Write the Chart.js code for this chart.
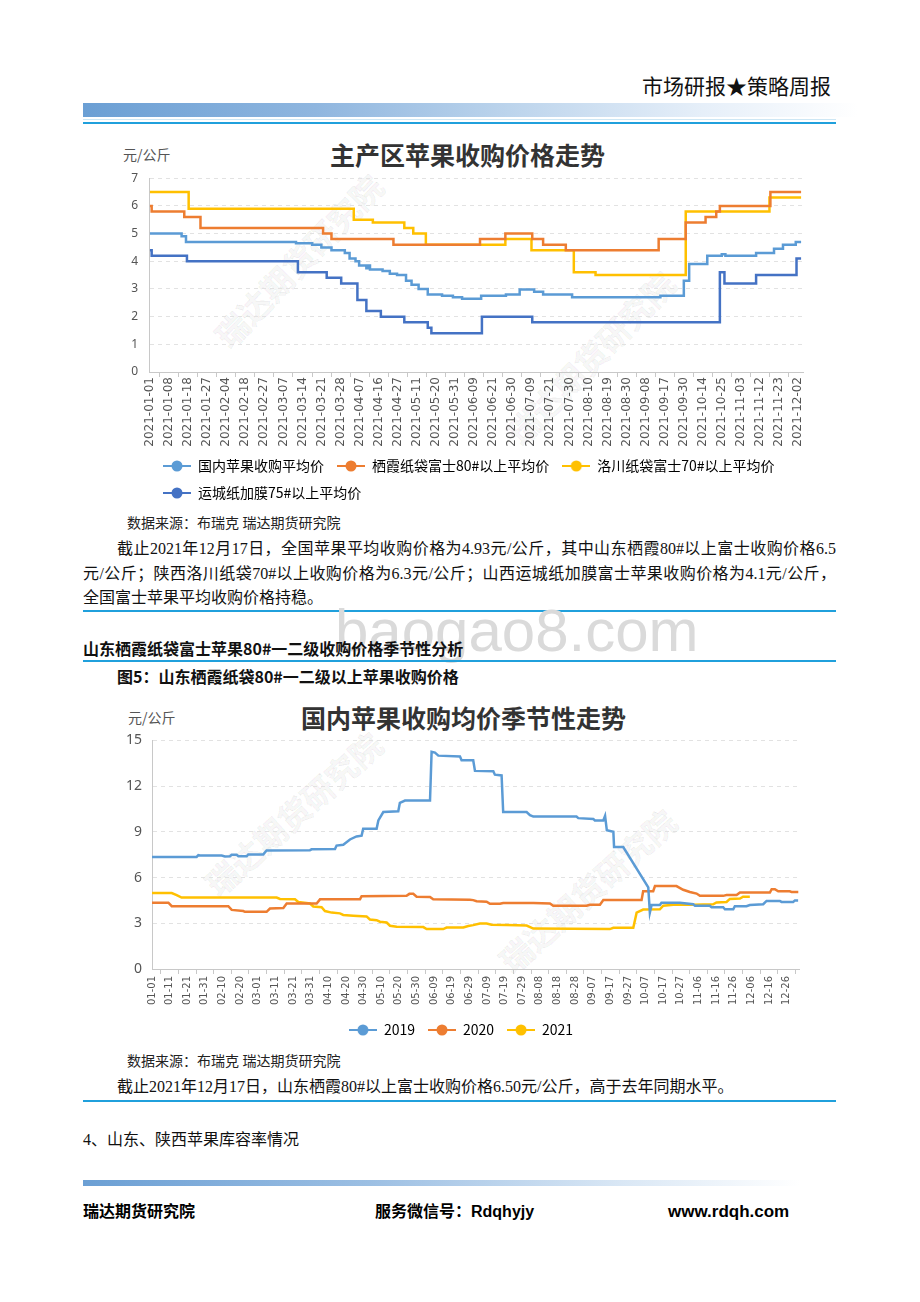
<!DOCTYPE html>
<html lang="zh-CN">
<head>
<meta charset="utf-8">
<title>市场研报★策略周报</title>
<script src="https://cdn.jsdelivr.net/npm/chart.js@4.4.1/dist/chart.umd.min.js"></script>
<style>
  html, body { margin: 0; padding: 0; background: #fff; }
  body { position: relative; width: 920px; height: 1302px; overflow: hidden;
         font-family: "Liberation Serif", "Noto Sans CJK SC", serif; color: #111; }
  .abs { position: absolute; white-space: nowrap; }
  .txt { font-size: 16px; line-height: 24px; }
  .just { white-space: normal; text-align: justify; text-align-last: justify; }
  .bold { font-family: "Noto Sans CJK SC", sans-serif; font-weight: bold; font-size: 16px; line-height: 24px; }
  .foot { font-family: "Liberation Sans", "Noto Sans CJK SC", sans-serif; font-weight: bold; font-size: 16px; line-height: 24px; color: #000; }
  .rule { position: absolute; left: 83px; width: 753px; height: 2px; background: #20a0dc; }
  .src { font-size: 14px; line-height: 20px; color: #222; }
  .ctitle { font-family: "Noto Sans CJK SC", sans-serif; font-weight: bold; font-size: 25px; line-height: 30px; color: #333; }
  .unit { font-family: "Noto Sans CJK SC", sans-serif; font-size: 14px; line-height: 20px; color: #555; }
  .wm { position: absolute; width: 240px; height: 36px; line-height: 36px; text-align: center;
        font-family: "Noto Sans CJK SC", sans-serif; font-weight: bold; font-size: 32px;
        color: rgba(0,0,0,0.04); -webkit-text-stroke: 0.8px rgba(0,0,0,0.07); }
  .chart { position: absolute; z-index: 1; }
  .chart canvas { display: block; }
</style>
</head>
<body>

<div class="abs" style="right:89px;top:72px;font-family:'Noto Sans CJK SC',sans-serif;font-size:21px;line-height:26px;color:#111">市场研报★策略周报</div>
<div class="abs" style="left:83px;top:103px;width:775px;height:14px;background:linear-gradient(to right,#6b9fd4 0%,#8fb6df 30%,#bcd4ec 55%,#e6eff9 80%,#ffffff 100%)"></div>
<div class="abs" style="left:83px;top:119px;width:753px;height:1px;background:#cde7f5"></div>
<div class="rule" style="top:122px"></div>

<!-- chart 1 -->
<div class="wm" style="left:178px;top:242px;transform:rotate(-46deg)">瑞达期货研究院</div>
<div class="wm" style="left:470px;top:339px;transform:rotate(-46deg)">瑞达期货研究院</div>
<div class="abs ctitle" style="left:330px;top:139px">主产区苹果收购价格走势</div>
<div class="abs unit" style="left:123px;top:144px">元/公斤</div>
<div class="chart" style="left:100px;top:160px"><canvas id="priceChart" width="720" height="350"></canvas></div>

<div class="abs src" style="left:127px;top:514px">数据来源：布瑞克 瑞达期货研究院</div>
<div class="abs txt just" style="left:117px;top:537px;width:719px">截止2021年12月17日，全国苹果平均收购价格为4.93元/公斤，其中山东栖霞80#以上富士收购价格6.5</div>
<div class="abs txt just" style="left:83px;top:562px;width:753px">元/公斤；陕西洛川纸袋70#以上收购价格为6.3元/公斤；山西运城纸加膜富士苹果收购价格为4.1元/公斤，</div>
<div class="abs txt" style="left:83px;top:586px">全国富士苹果平均收购价格持稳。</div>
<div class="rule" style="top:610px"></div>

<div class="abs" style="left:335px;top:601px;font-family:'Liberation Sans',sans-serif;font-size:60px;line-height:60px;color:#dadada">baogao8.com</div>
<div class="abs bold" style="left:83px;top:636px">山东栖霞纸袋富士苹果80#一二级收购价格季节性分析</div>
<div class="rule" style="top:660px"></div>
<div class="abs bold" style="left:117px;top:664px">图5：山东栖霞纸袋80#一二级以上苹果收购价格</div>

<!-- chart 2 -->
<div class="wm" style="left:173px;top:795px;transform:rotate(-42deg)">瑞达期货研究院</div>
<div class="wm" style="left:467px;top:872px;transform:rotate(-42deg)">瑞达期货研究院</div>
<div class="abs ctitle" style="left:301px;top:702px">国内苹果收购均价季节性走势</div>
<div class="abs unit" style="left:128px;top:707px">元/公斤</div>
<div class="chart" style="left:100px;top:722px"><canvas id="seasonChart" width="720" height="325"></canvas></div>

<div class="abs src" style="left:127px;top:1052px">数据来源：布瑞克 瑞达期货研究院</div>
<div class="abs txt" style="left:117px;top:1075px">截止2021年12月17日，山东栖霞80#以上富士收购价格6.50元/公斤，高于去年同期水平。</div>
<div class="rule" style="top:1100px"></div>
<div class="abs txt" style="left:83px;top:1128px">4、山东、陕西苹果库容率情况</div>

<div class="abs" style="left:83px;top:1180px;width:717px;height:6px;background:linear-gradient(to right,#6b9fd4 0%,#9cbfe3 40%,#d9e7f5 75%,#ffffff 100%)"></div>
<div class="abs foot" style="left:83px;top:1200px">瑞达期货研究院</div>
<div class="abs foot" style="left:375px;top:1200px">服务微信号：Rdqhyjy</div>
<div class="abs foot" style="left:668px;top:1200px;font-size:17px">www.rdqh.com</div>

<script>
// ---- chart 1: main producing areas, 2021 (x = position on the date axis) ----
const dates1 = ['2021-01-01', '2021-01-08', '2021-01-18', '2021-01-27', '2021-02-04', '2021-02-18', '2021-02-27',
  '2021-03-07', '2021-03-14', '2021-03-21', '2021-03-28', '2021-04-07', '2021-04-16', '2021-04-27', '2021-05-11',
  '2021-05-20', '2021-05-31', '2021-06-09', '2021-06-21', '2021-06-30', '2021-07-09', '2021-07-21', '2021-07-30',
  '2021-08-10', '2021-08-19', '2021-08-30', '2021-09-08', '2021-09-17', '2021-09-30', '2021-10-14', '2021-10-25',
  '2021-11-03', '2021-11-12', '2021-11-23', '2021-12-02']
const names1  = ['国内苹果收购平均价', '栖霞纸袋富士80#以上平均价', '洛川纸袋富士70#以上平均价', '运城纸加膜75#以上平均价']
const colors1 = ['#5b9bd5', '#ed7d31', '#ffc000', '#4472c4']
const end1 = 34.15

// each price holds from its x until the next x
const avgX = [0, 1.66, 1.89, 7.66, 8.51, 8.99, 9.52, 10.22, 10.47, 10.78, 10.97, 11.35, 11.45, 11.54, 12.2, 12.58, 12.96,
  13.43, 13.72, 14.09, 14.57, 15.32, 15.89, 16.37, 17.37, 18.67, 19.39, 20.15, 20.62, 22.14, 26.77, 28.0, 28.28, 29.23,
  29.99, 30.18, 31.79, 32.73, 33.2, 33.87]
const avgY = [5.0, 4.9, 4.7, 4.65, 4.6, 4.5, 4.4, 4.3, 4.1, 4.0, 3.85, 3.75, 3.85, 3.7, 3.65, 3.55, 3.5,
  3.3, 3.15, 3.0, 2.8, 2.75, 2.7, 2.65, 2.75, 2.8, 2.98, 2.9, 2.8, 2.7, 2.75, 3.3, 3.9, 4.2,
  4.25, 4.2, 4.3, 4.45, 4.6, 4.7]
const qxX = [0, 0.09, 1.8, 2.65, 9.08, 9.52, 12.77, 17.31, 18.64, 20.05, 20.62, 21.81, 26.68, 28.1, 29.14, 29.7, 29.89, 32.54]
const qxY = [6.0, 5.8, 5.6, 5.2, 5.0, 4.8, 4.6, 4.8, 5.0, 4.8, 4.6, 4.4, 4.8, 5.4, 5.6, 5.8, 6.0, 6.5]
const lcX = [0, 2.03, 10.69, 11.69, 13.34, 13.81, 14.47, 18.64, 20.01, 22.23, 23.37, 28.1, 32.49]
const lcY = [6.5, 5.9, 5.5, 5.4, 5.2, 5.0, 4.6, 4.8, 4.4, 3.6, 3.5, 5.8, 6.3]
const ycX = [0, 0.09, 1.94, 7.76, 9.27, 10.03, 10.88, 11.35, 12.11, 13.34, 14.57, 14.76, 17.41, 20.05, 29.89, 30.13, 31.79, 33.91]
const ycY = [4.4, 4.2, 4.0, 3.6, 3.4, 3.2, 2.6, 2.2, 2.0, 1.8, 1.6, 1.4, 2.0, 1.8, 3.6, 3.2, 3.5, 4.1]

// ---- chart 2: seasonal, x = day of year ----
const days2 = ['01-01', '01-11', '01-21', '01-31', '02-10', '02-20', '03-01', '03-11', '03-21', '03-31', '04-10',
  '04-20', '04-30', '05-10', '05-20', '05-30', '06-09', '06-19', '06-29', '07-09', '07-19', '07-29', '08-08',
  '08-18', '08-28', '09-07', '09-17', '09-27', '10-07', '10-17', '10-27', '11-06', '11-16', '11-26', '12-06',
  '12-16', '12-26']
const years2  = ['2019', '2020', '2021']
const colors2 = ['#5b9bd5', '#ed7d31', '#ffc000']

const d19 = [0, 25.3, 26.3, 27.2, 39.5, 41.4, 44.2, 45.2, 48, 49, 53.7, 54.6, 63.1, 65, 89.6, 90.5, 103.8, 104.7,
  108.5, 112.3, 116, 118.9, 119.8, 127.4, 128.4, 131.2, 139.7, 140.6, 143.5, 157.7, 158.6, 160.5, 162.4, 174.7,
  175.6, 182.2, 183.2, 193.6, 194.5, 198.3, 199.2, 212.5, 214.4, 216.3, 240.8, 241.8, 250.3, 251.2, 256, 257, 258,
  261.7, 262.1, 267.3, 281.5, 282.4, 283.4, 288.1, 289, 299.4, 307, 308, 316.4, 317.4, 324, 325, 329.7, 330.6,
  337.2, 339.1, 346.7, 348.6, 356.1, 357.1, 363.7, 364.7, 366.5]
const v19 = [7.35, 7.35, 7.47, 7.45, 7.45, 7.38, 7.4, 7.5, 7.5, 7.4, 7.4, 7.52, 7.52, 7.78, 7.8, 7.85, 7.87, 8.1,
  8.15, 8.5, 8.7, 8.75, 9.2, 9.2, 9.75, 10.3, 10.35, 10.9, 11.05, 11.05, 14.25, 14.2, 14.0, 13.95,
  13.7, 13.7, 13.0, 12.97, 12.75, 12.7, 10.3, 10.3, 10.1, 10.0, 10.0, 9.9, 9.85, 9.75, 9.75, 10.05, 9.1,
  9.0, 8.0, 8.0, 5.35, 3.7, 4.2, 4.2, 4.35, 4.35, 4.25, 4.15, 4.15, 4.05, 4.05, 3.92, 3.92, 4.12,
  4.12, 4.2, 4.25, 4.47, 4.47, 4.4, 4.4, 4.5, 4.5]
const d20 = [0, 9.3, 11.2, 43.3, 45.2, 51.8, 52.7, 65, 66.9, 74.5, 76.4, 93.4, 95.3, 118, 118.9, 144.4, 146, 148.2,
  150.1, 157.7, 159.5, 180.3, 182.2, 184.1, 189.8, 191.7, 197.4, 199.2, 216.3, 225.7, 227.6, 246.5, 248.4, 254.1,
  256, 277.7, 278.6, 284.3, 285.3, 297.5, 301.3, 305.1, 308.9, 310.8, 324, 325.9, 331.6, 333.5, 350.5, 351.5,
  353.3, 355.2, 361.8, 362.8, 366.6]
const v20 = [4.35, 4.35, 4.12, 4.12, 3.88, 3.8, 3.75, 3.75, 3.97, 4.0, 4.3, 4.3, 4.57, 4.58, 4.78, 4.8, 4.93, 4.93,
  4.74, 4.72, 4.57, 4.55, 4.52, 4.45, 4.42, 4.28, 4.28, 4.33, 4.33, 4.3, 4.15, 4.15, 4.22, 4.22,
  4.52, 4.52, 5.1, 5.1, 5.44, 5.44, 5.2, 5.05, 4.95, 4.8, 4.8, 4.85, 4.85, 5.02, 5.02, 5.24,
  5.24, 5.1, 5.1, 5.05, 5.05]
const d21 = [0, 11.2, 14, 16.8, 70.7, 72.6, 81.1, 83, 89.6, 91.5, 96.2, 98.1, 101.9, 106.6, 108.5, 114.2, 121.7,
  123.6, 127.4, 129.3, 133.1, 135, 138.8, 153.9, 155.8, 165.2, 167.1, 176.6, 179.4, 182.2, 186, 189.8, 192.6,
  201.1, 212.5, 216.3, 259.7, 261.7, 273, 274.9, 278.6, 288.1, 290, 295.7, 307, 318.3, 320.2, 325.9, 327.8,
  333.5, 335.3, 339.1]
const v21 = [4.98, 4.98, 4.85, 4.69, 4.69, 4.6, 4.58, 4.4, 4.3, 4.1, 4.05, 3.8, 3.7, 3.65, 3.55, 3.5, 3.45,
  3.25, 3.2, 3.1, 3.05, 2.84, 2.77, 2.75, 2.62, 2.62, 2.72, 2.73, 2.82, 2.88, 2.99, 2.99, 2.9,
  2.88, 2.85, 2.65, 2.62, 2.7, 2.7, 3.7, 3.9, 3.92, 4.15, 4.22, 4.22, 4.25, 4.37, 4.4, 4.6,
  4.62, 4.74, 4.74]

const points = (xs, ys) => xs.map((x, i) => ({ x, y: ys[i] }))
const stepPoints = (xs, ys) => points(xs, ys).concat([{ x: end1, y: ys[ys.length - 1] }])

function series(label, color, data, stepped) {
  return { label, data, borderColor: color, backgroundColor: color, borderWidth: 2.5,
           pointRadius: 0, fill: false, tension: 0, stepped }
}

// legend marker: short line with a dot, like the source chart
function marker(color) {
  const c = document.createElement('canvas')
  c.width = 28; c.height = 12
  const g = c.getContext('2d')
  g.strokeStyle = color; g.lineWidth = 2
  g.beginPath(); g.moveTo(0, 6); g.lineTo(28, 6); g.stroke()
  g.fillStyle = color
  g.beginPath(); g.arc(14, 6, 5.5, 0, Math.PI * 2); g.fill()
  return c
}

function legendOpts(align, color) {
  return {
    position: 'bottom',
    align,
    labels: {
      usePointStyle: true,
      pointStyleWidth: 28,
      padding: 13,
      color,
      font: { family: 'Noto Sans CJK SC', size: 14 },
      generateLabels: chart => chart.data.datasets.map((ds, i) => ({
        text: ds.label, fillStyle: ds.borderColor, strokeStyle: ds.borderColor, lineWidth: 0,
        hidden: false, datasetIndex: i, pointStyle: marker(ds.borderColor)
      }))
    }
  }
}

// nudge the legend sideways without moving the plot area
const legendShift = {
  id: 'legendShift',
  afterLayout(chart, args, opts) {
    const l = chart.legend
    if (l && opts.dx) { l.left += opts.dx; l.right += opts.dx }
  }
}

new Chart(document.getElementById('priceChart'), {
  type: 'line',
  data: {
    datasets: [
      series(names1[0], colors1[0], stepPoints(avgX, avgY), true),
      series(names1[1], colors1[1], stepPoints(qxX, qxY), true),
      series(names1[2], colors1[2], stepPoints(lcX, lcY), true),
      series(names1[3], colors1[3], stepPoints(ycX, ycY), true)
    ]
  },
  options: {
    responsive: false,
    animation: false,
    events: [],
    layout: { padding: { top: 0, right: 17, left: 0, bottom: 0 } },
    plugins: {
      legend: legendOpts('start', '#666'),
      legendShift: { dx: 50 },
      tooltip: { enabled: false }
    },
    scales: {
      x: {
        type: 'linear', min: -0.05, max: 34.25,
        afterBuildTicks: s => { s.ticks = dates1.map((_, i) => ({ value: i })) },
        afterFit: s => { s.height = 74 },
        ticks: { autoSkip: false, minRotation: 90, maxRotation: 90, padding: 0, color: '#555',
                 font: { family: 'DejaVu Sans', size: 12 }, callback: v => dates1[Math.round(v)] },
        grid: { offset: true, drawOnChartArea: false, tickLength: 5, color: '#c8c8c8' },
        border: { color: '#c8c8c8', z: 1 }
      },
      y: {
        min: 0, max: 7,
        afterFit: s => { s.width = 49 },
        ticks: { stepSize: 1, padding: 11, color: '#555', font: { family: 'Noto Sans', size: 12 } },
        grid: { color: '#e2e2e2', drawTicks: false },
        border: { color: '#c8c8c8', dash: [4, 4] }
      }
    }
  },
  plugins: [legendShift]
})

new Chart(document.getElementById('seasonChart'), {
  type: 'line',
  data: {
    datasets: [
      series(years2[0], colors2[0], points(d19, v19), false),
      series(years2[1], colors2[1], points(d20, v20), false),
      series(years2[2], colors2[2], points(d21, v21), false)
    ]
  },
  options: {
    responsive: false,
    animation: false,
    events: [],
    layout: { padding: { top: 0, right: 21, left: 0, bottom: 0 } },
    plugins: {
      legend: legendOpts('center', '#555'),
      legendShift: { dx: 11.5 },
      tooltip: { enabled: false }
    },
    scales: {
      x: {
        type: 'linear', min: 0, max: 367,
        afterBuildTicks: s => { s.ticks = days2.map((_, i) => ({ value: i * 10 })) },
        afterFit: s => { s.height = 41 },
        ticks: { autoSkip: false, minRotation: 90, maxRotation: 90, padding: 2, color: '#555',
                 font: { family: 'DejaVu Sans', size: 10 }, callback: v => days2[Math.round(v / 10)] },
        grid: { offset: true, drawOnChartArea: false, tickLength: 5, color: '#c8c8c8' },
        border: { color: '#c8c8c8', z: 1 }
      },
      y: {
        min: 0, max: 15,
        afterFit: s => { s.width = 52 },
        ticks: { stepSize: 3, padding: 10, color: '#555', font: { family: 'Noto Sans', size: 14 } },
        grid: { color: '#e2e2e2', drawTicks: false },
        border: { color: '#c8c8c8', dash: [4, 4] }
      }
    }
  },
  plugins: [legendShift]
})
</script>
</body>
</html>
